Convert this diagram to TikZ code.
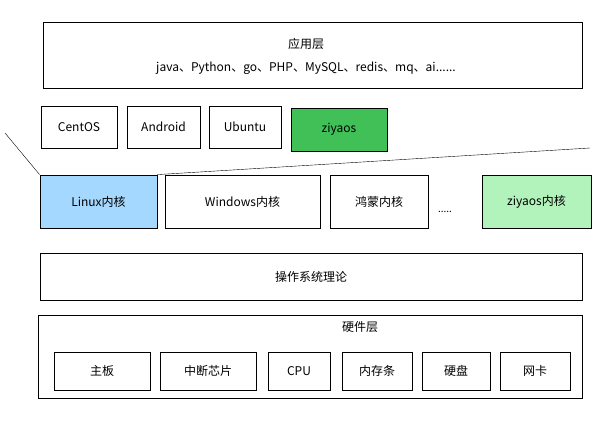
\documentclass[tikz,border=0pt]{standalone}
\usepackage{fontspec}
\setmainfont{Noto Sans CJK SC}
\definecolor{kernelblue}{HTML}{A5D8FF}
\definecolor{kernelgreen}{HTML}{B2F2BB}
\definecolor{distgreen}{HTML}{40C057}
\tikzset{
  box/.style={draw, thick, inner sep=0pt, font=\fontsize{12}{14}\selectfont},
}
\begin{document}
\begin{tikzpicture}[x=1pt, y=-1pt]
        \useasboundingbox (0,0) rectangle (614,430);

        % Application layer
        \node[box, minimum width=539, minimum height=66] (app) at (312.5,55) {};
        \node[font=\fontsize{12}{14}\selectfont] (apptitle) at (306,44) {应用层};
        \node[font=\fontsize{12}{14}\selectfont] (applist) at (306,68) {java、Python、go、PHP、MySQL、redis、mq、ai......};

        % Distributions
        \node[box, minimum width=76, minimum height=42] (centos) at (79,127) {CentOS};
        \node[box, minimum width=73, minimum height=42] (android) at (163.5,127) {Android};
        \node[box, minimum width=72, minimum height=42] (ubuntu) at (245,127) {Ubuntu};
        \node[box, fill=distgreen, minimum width=96, minimum height=43] (ziyaos) at (339,129.5) {ziyaos};

        % Kernels
        \node[box, fill=kernelblue, minimum width=117, minimum height=53] (linux) at (98.5,201.5) {Linux内核};
        \node[box, minimum width=155, minimum height=53] (windows) at (242.5,201.5) {Windows内核};
        \node[box, minimum width=98, minimum height=53] (harmony) at (379,201.5) {鸿蒙内核};
        \node (dots) at (445,212) {.....};
        \node[box, fill=kernelgreen, minimum width=109, minimum height=53] (ziyaoskernel) at (536.5,201.5) {ziyaos内核};

        % Linux fan lines
        \coordinate (fanleft) at (5,133);
        \coordinate (fanright) at (590,148);
        \draw (linux.north west) -- (fanleft);
        \draw (linux.north east) -- (fanright);

        % OS theory
        \node[box, minimum width=542, minimum height=47] (theory) at (311,276.5) {操作系统理论};

        % Hardware layer
        \node[box, minimum width=544, minimum height=83] (hw) at (310,356.5) {};
        \node[font=\fontsize{12}{14}\selectfont] (hwtitle) at (360,327) {硬件层};
        \foreach \name/\x/\w/\label in {board/102/96/主板, irq/208/96/中断芯片, cpu/299/62/CPU, ram/377/70/内存条, disk/456/68/硬盘, nic/535/70/网卡} {
          \node[box, minimum width=\w, minimum height=38] (\name) at (\x,371) {\label};
        }
      \end{tikzpicture}
\end{document}
